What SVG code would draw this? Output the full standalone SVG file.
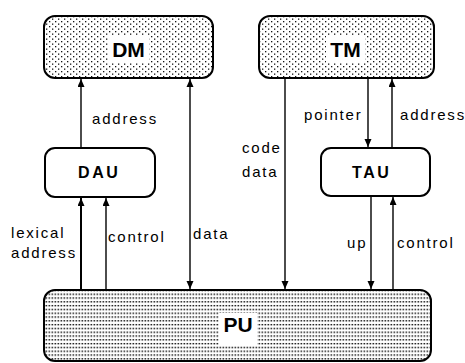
<svg xmlns="http://www.w3.org/2000/svg" width="465" height="363" viewBox="0 0 465 363">
  <style>
    .box { stroke: #000; stroke-width: 2; }
    .memory { fill: url(#dots); }
    .unit { fill: #fff; }
    .proc { fill: url(#dashes); }
    .wire { stroke: #000; stroke-width: 1.4; fill: none; }
    .thick { stroke-width: 2; }
    .lbl { font-family: "Liberation Sans", Arial, sans-serif; font-size: 15px; fill: #000; letter-spacing: 1.8px; }
    .unitname { font-family: "Liberation Sans", Arial, sans-serif; font-size: 16px; font-weight: bold; letter-spacing: 2.6px; fill: #000; }
    .bigname { font-family: "Liberation Sans", Arial, sans-serif; font-size: 21px; font-weight: bold; fill: #000; }
  </style>
  <defs>
    <pattern id="dots" width="6" height="5" patternUnits="userSpaceOnUse">
      <rect width="6" height="5" fill="#fff"/>
      <rect x="1" y="1" width="1.3" height="1.3" fill="#111"/>
      <rect x="4" y="3.5" width="1.3" height="1.3" fill="#111"/>
    </pattern>
    <pattern id="dashes" width="3" height="3.8" patternUnits="userSpaceOnUse">
      <rect width="3" height="3.8" fill="#fff"/>
      <rect x="0.5" y="1" width="1.7" height="1.3" fill="#111"/>
    </pattern>
    <marker id="head" markerWidth="8" markerHeight="10" refX="8" refY="3.5" orient="auto" markerUnits="userSpaceOnUse">
      <path d="M0,0 L8,3.5 L0,7 Z" fill="#000"/>
    </marker>
    <marker id="tail" markerWidth="8" markerHeight="10" refX="0" refY="3.5" orient="auto" markerUnits="userSpaceOnUse">
      <path d="M8,0 L0,3.5 L8,7 Z" fill="#000"/>
    </marker>
  </defs>

  <!-- connectors -->
  <g id="connectors">
    <line class="wire" x1="81" y1="148" x2="81" y2="79" marker-end="url(#head)"/>
    <line class="wire" x1="190" y1="79" x2="190" y2="289" marker-start="url(#tail)" marker-end="url(#head)"/>
    <line class="wire thick" x1="81" y1="290" x2="81" y2="198" marker-end="url(#head)"/>
    <line class="wire" x1="106" y1="290" x2="106" y2="198" marker-end="url(#head)"/>
    <line class="wire" x1="285" y1="78" x2="285" y2="289" marker-end="url(#head)"/>
    <line class="wire" x1="368" y1="78" x2="368" y2="147" marker-end="url(#head)"/>
    <line class="wire" x1="392" y1="148" x2="392" y2="79" marker-end="url(#head)"/>
    <line class="wire" x1="371" y1="197" x2="371" y2="289" marker-end="url(#head)"/>
    <line class="wire" x1="393" y1="290" x2="393" y2="197" marker-end="url(#head)"/>

    <text class="lbl" x="92" y="124">address</text>
    <text class="lbl" x="11" y="238">lexical</text>
    <text class="lbl" x="11" y="258">address</text>
    <text class="lbl" x="108" y="242">control</text>
    <text class="lbl" x="193" y="239">data</text>
    <text class="lbl" x="304" y="120">pointer</text>
    <text class="lbl" x="400" y="120">address</text>
    <text class="lbl" x="242" y="153">code</text>
    <text class="lbl" x="242" y="177">data</text>
    <text class="lbl" x="347" y="248">up</text>
    <text class="lbl" x="397" y="248">control</text>
  </g>

  <!-- data memory -->
  <g id="DM">
    <rect class="box memory" x="44" y="16" width="169" height="62" rx="11"/>
    <rect x="108" y="35" width="41" height="28" fill="#fff"/>
    <text class="bigname" x="128.5" y="57" text-anchor="middle">DM</text>
  </g>

  <!-- text memory -->
  <g id="TM">
    <rect class="box memory" x="259" y="16" width="175" height="62" rx="11"/>
    <rect x="326" y="35" width="39" height="28" fill="#fff"/>
    <text class="bigname" x="345.5" y="57" text-anchor="middle">TM</text>
  </g>

  <!-- data address unit -->
  <g id="DAU">
    <rect class="box unit" x="45" y="148" width="110" height="49" rx="10"/>
    <text class="unitname" x="78" y="178">DAU</text>
  </g>

  <!-- text address unit -->
  <g id="TAU">
    <rect class="box unit" x="321" y="148" width="109" height="48" rx="10"/>
    <text class="unitname" x="352" y="178">TAU</text>
  </g>

  <!-- processing unit -->
  <g id="PU">
    <rect class="box proc" x="44" y="290" width="387" height="71" rx="11"/>
    <rect x="219" y="313" width="38" height="32" fill="#fff"/>
    <text class="bigname" x="238" y="332" text-anchor="middle">PU</text>
  </g>
</svg>
